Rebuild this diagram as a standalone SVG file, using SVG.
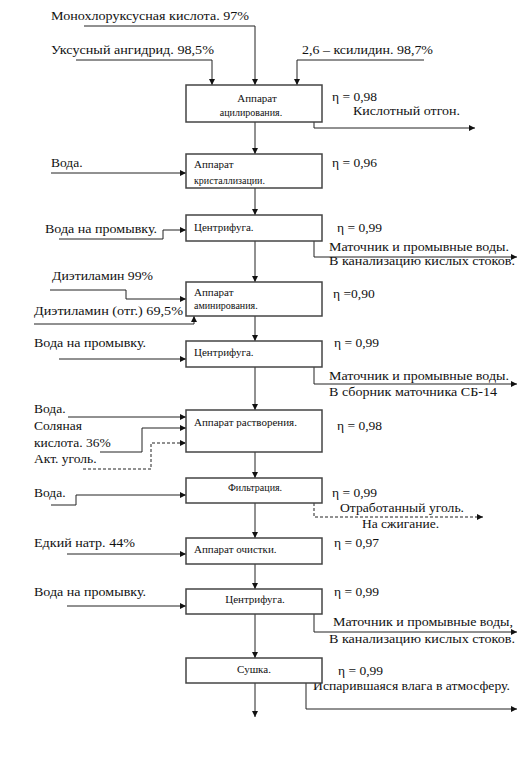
<svg xmlns="http://www.w3.org/2000/svg" width="520" height="767" viewBox="0 0 520 767">
<defs>
<marker id="ar" markerUnits="userSpaceOnUse" markerWidth="7" markerHeight="6" refX="6" refY="3" orient="auto">
<path d="M0,0 L6,3 L0,6 Z" fill="#111"/>
</marker>
<style>
.bx{fill:#fff;stroke:#444;stroke-width:1.5}
.ln{fill:none;stroke:#222;stroke-width:1;marker-end:url(#ar)}
.ds{stroke-dasharray:3,2}
.t{font-family:"Liberation Serif","Times New Roman",serif;font-size:13.5px;fill:#111}
.b{font-family:"Liberation Serif","Times New Roman",serif;font-size:11px;fill:#111}
.s{font-size:10px}
</style>
</defs>
<rect width="520" height="767" fill="#fff"/>
<g id="connectors">
<path class="ln" d="M255,122 V154"/>
<path class="ln" d="M255,188 V215"/>
<path class="ln" d="M255,241 V282"/>
<path class="ln" d="M255,316 V341"/>
<path class="ln" d="M255,367 V410"/>
<path class="ln" d="M255,452 V478"/>
<path class="ln" d="M255,503 V538"/>
<path class="ln" d="M255,564 V589"/>
<path class="ln" d="M255,614 V658"/>
<path class="ln" d="M255,683 V717"/>
<path class="ln" d="M84,26 H255 V85"/>
<path class="ln" d="M76,60 H212 V85"/>
<path class="ln" d="M424,60 H297 V85"/>
<path class="ln" d="M314,122 V128 H475"/>
<path class="ln" d="M51,173 H186"/>
<path class="ln" d="M59,239 H163 V230 H186"/>
<path class="ln" d="M314,241 V257 H517"/>
<path class="ln" d="M50,290 H126 V299 H186"/>
<path class="ln" d="M34,324 H194 V316"/>
<path class="ln" d="M59,359 H186"/>
<path class="ln" d="M314,367 V384 H517"/>
<path class="ln" d="M68,417 H186"/>
<path class="ln" d="M100,452 H142 V428 H186"/>
<path class="ln ds" d="M83,469 H151 V443 H186"/>
<path class="ln" d="M51,505 H76 V495 H186"/>
<path class="ln ds" d="M314,503 V517 H483"/>
<path class="ln" d="M67,554 H186"/>
<path class="ln" d="M67,606 H186"/>
<path class="ln" d="M314,614 V632 H517"/>
<path class="ln" d="M306,683 V709 H517"/>
</g>
<g id="inputs">
<text class="t" x="51" y="20" textLength="198" lengthAdjust="spacingAndGlyphs">Монохлоруксусная кислота. 97%</text>
<text class="t" x="51" y="54" textLength="163" lengthAdjust="spacingAndGlyphs">Уксусный ангидрид. 98,5%</text>
<text class="t" x="302" y="54" textLength="131" lengthAdjust="spacingAndGlyphs">2,6 – ксилидин. 98,7%</text>
<text class="t" x="51" y="167">Вода.</text>
<text class="t" x="45" y="233" textLength="112" lengthAdjust="spacingAndGlyphs">Вода на промывку.</text>
<text class="t" x="52" y="280" textLength="101" lengthAdjust="spacingAndGlyphs">Диэтиламин 99%</text>
<text class="t" x="34" y="315" textLength="149" lengthAdjust="spacingAndGlyphs">Диэтиламин (отг.) 69,5%</text>
<text class="t" x="34" y="347" textLength="112" lengthAdjust="spacingAndGlyphs">Вода на промывку.</text>
<text class="t" x="34" y="413">Вода.</text>
<text class="t" x="34" y="430">Соляная</text>
<text class="t" x="34" y="447">кислота. 36%</text>
<text class="t" x="34" y="463">Акт. уголь.</text>
<text class="t" x="34" y="497">Вода.</text>
<text class="t" x="34" y="547" textLength="101" lengthAdjust="spacingAndGlyphs">Едкий натр. 44%</text>
<text class="t" x="34" y="596" textLength="112" lengthAdjust="spacingAndGlyphs">Вода на промывку.</text>
</g>
<g id="outputs">
<text class="t" x="332" y="101">η = 0,98</text>
<text class="t" x="353" y="115" textLength="107" lengthAdjust="spacingAndGlyphs">Кислотный отгон.</text>
<text class="t" x="332" y="167">η = 0,96</text>
<text class="t" x="337" y="232">η = 0,99</text>
<text class="t" x="329" y="251" textLength="180" lengthAdjust="spacingAndGlyphs">Маточник и промывные воды.</text>
<text class="t" x="329" y="265" textLength="186" lengthAdjust="spacingAndGlyphs">В канализацию кислых стоков.</text>
<text class="t" x="333" y="298">η =0,90</text>
<text class="t" x="334" y="347">η = 0,99</text>
<text class="t" x="329" y="380" textLength="180" lengthAdjust="spacingAndGlyphs">Маточник и промывные воды.</text>
<text class="t" x="329" y="396" textLength="168" lengthAdjust="spacingAndGlyphs">В сборник маточника СБ-14</text>
<text class="t" x="337" y="430">η = 0,98</text>
<text class="t" x="332" y="497">η = 0,99</text>
<text class="t" x="340" y="512" textLength="124" lengthAdjust="spacingAndGlyphs">Отработанный уголь.</text>
<text class="t" x="362" y="528">На сжигание.</text>
<text class="t" x="334" y="547">η = 0,97</text>
<text class="t" x="334" y="596">η = 0,99</text>
<text class="t" x="333" y="626" textLength="180" lengthAdjust="spacingAndGlyphs">Маточник и промывные воды,</text>
<text class="t" x="329" y="643" textLength="186" lengthAdjust="spacingAndGlyphs">В канализацию кислых стоков.</text>
<text class="t" x="338" y="675">η = 0,99</text>
<text class="t" x="313" y="690" textLength="197" lengthAdjust="spacingAndGlyphs">Испарившаяся влага в атмосферу.</text>
</g>
<g id="n1"><rect class="bx" x="186" y="85" width="136" height="37"/>
<text class="b" x="257" y="102" text-anchor="middle">Аппарат</text>
<text class="b s" x="251" y="116" text-anchor="middle">ацилирования.</text></g>
<g id="n2"><rect class="bx" x="186" y="154" width="136" height="34"/>
<text class="b" x="194" y="168">Аппарат</text>
<text class="b s" x="194" y="184">кристаллизации.</text></g>
<g id="n3"><rect class="bx" x="186" y="215" width="136" height="26"/>
<text class="b" x="194" y="231">Центрифуга.</text></g>
<g id="n4"><rect class="bx" x="186" y="282" width="136" height="34"/>
<text class="b" x="194" y="296">Аппарат</text>
<text class="b s" x="194" y="309">аминирования.</text></g>
<g id="n5"><rect class="bx" x="186" y="341" width="136" height="26"/>
<text class="b" x="194" y="356">Центрифуга.</text></g>
<g id="n6"><rect class="bx" x="186" y="410" width="136" height="42"/>
<text class="b" x="194" y="426">Аппарат растворения.</text></g>
<g id="n7"><rect class="bx" x="186" y="478" width="136" height="25"/>
<text class="b s" x="255" y="491" text-anchor="middle">Фильтрация.</text></g>
<g id="n8"><rect class="bx" x="186" y="538" width="136" height="26"/>
<text class="b" x="194" y="553">Аппарат очистки.</text></g>
<g id="n9"><rect class="bx" x="186" y="589" width="136" height="25"/>
<text class="b" x="255" y="603" text-anchor="middle">Центрифуга.</text></g>
<g id="n10"><rect class="bx" x="186" y="658" width="136" height="25"/>
<text class="b" x="254" y="673" text-anchor="middle">Сушка.</text></g>
</svg>
